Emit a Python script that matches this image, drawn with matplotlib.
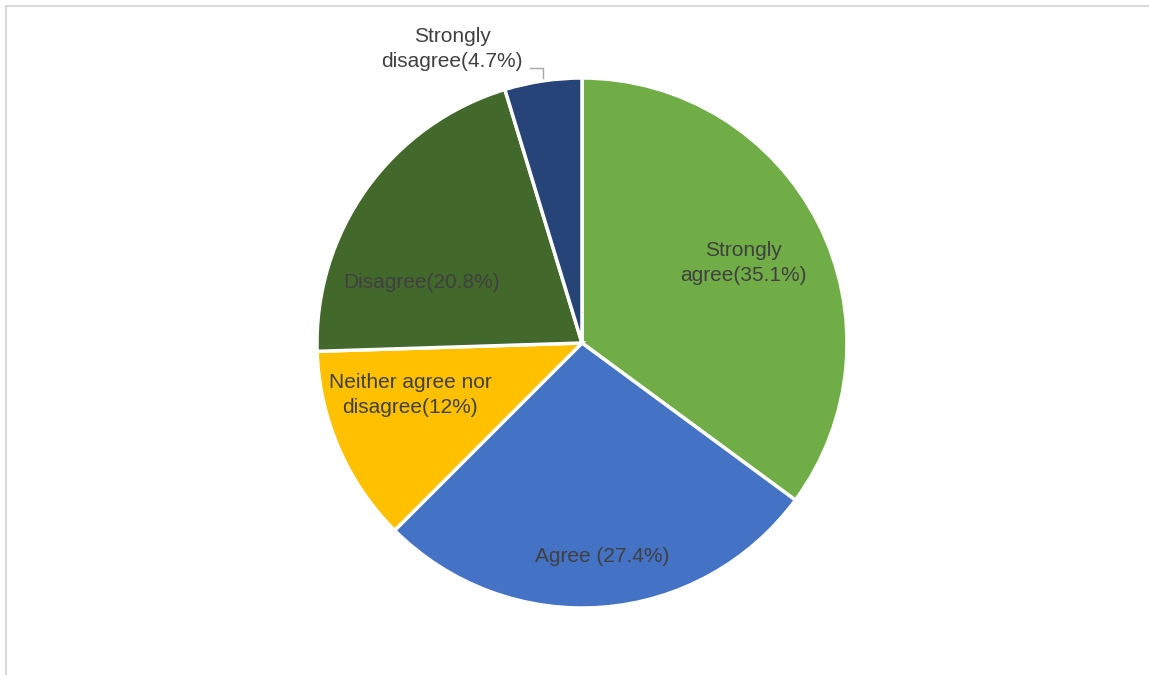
import matplotlib.pyplot as plt
from matplotlib.lines import Line2D

categories = ["Strongly agree", "Agree", "Neither agree nor disagree",
              "Disagree", "Strongly disagree"]
shares = [35.1, 27.4, 12, 20.8, 4.7]
labels = ["Strongly\nagree(35.1%)", "Agree (27.4%)", "Neither agree nor\ndisagree(12%)",
          "Disagree(20.8%)", "Strongly\ndisagree(4.7%)"]
colors = ["#70AD47", "#4472C4", "#FFC000", "#43682B", "#264478"]

W, H = 1149, 675
fig = plt.figure(figsize=(W / 100, H / 100), dpi=100)

# pie centre (582, 343) px, radius 265 px
cx, cy, r = 582, 343, 265
ax = fig.add_axes([(cx - r) / W, (H - cy - r) / H, 2 * r / W, 2 * r / H])
ax.pie(shares, colors=colors, startangle=90, counterclock=False,
       wedgeprops=dict(edgecolor="white", linewidth=2.5))
ax.set_xlim(-1, 1)
ax.set_ylim(-1, 1)
ax.set_aspect("equal")
ax.axis("off")


def to_data(px, py):
    return (px - cx) / r, (cy - py) / r


# label spots in pixels (layout)
label_px = [(743, 263), (602, 557), (410, 395), (422, 283), (452, 49)]
for lab, (px, py) in zip(labels, label_px):
    x, y = to_data(px, py)
    ax.text(x, y, lab, ha="center", va="center", fontsize=15,
            family="Liberation Sans", color="#404040", linespacing=1.35,
            clip_on=False)

# leader line for the small slice
pts = [to_data(530, 68), to_data(543, 68), to_data(543, 78)]
ax.plot([p[0] for p in pts], [p[1] for p in pts], color="#A6A6A6",
        linewidth=1, clip_on=False)

# chart frame
fig.add_artist(Line2D([6 / W, 6 / W], [0, 1 - 6 / H], transform=fig.transFigure,
                      color="#D9D9D9", linewidth=1.5))
fig.add_artist(Line2D([6 / W, 1], [1 - 6 / H, 1 - 6 / H], transform=fig.transFigure,
                      color="#D9D9D9", linewidth=1.5))

fig.savefig("out.png", dpi=100)
